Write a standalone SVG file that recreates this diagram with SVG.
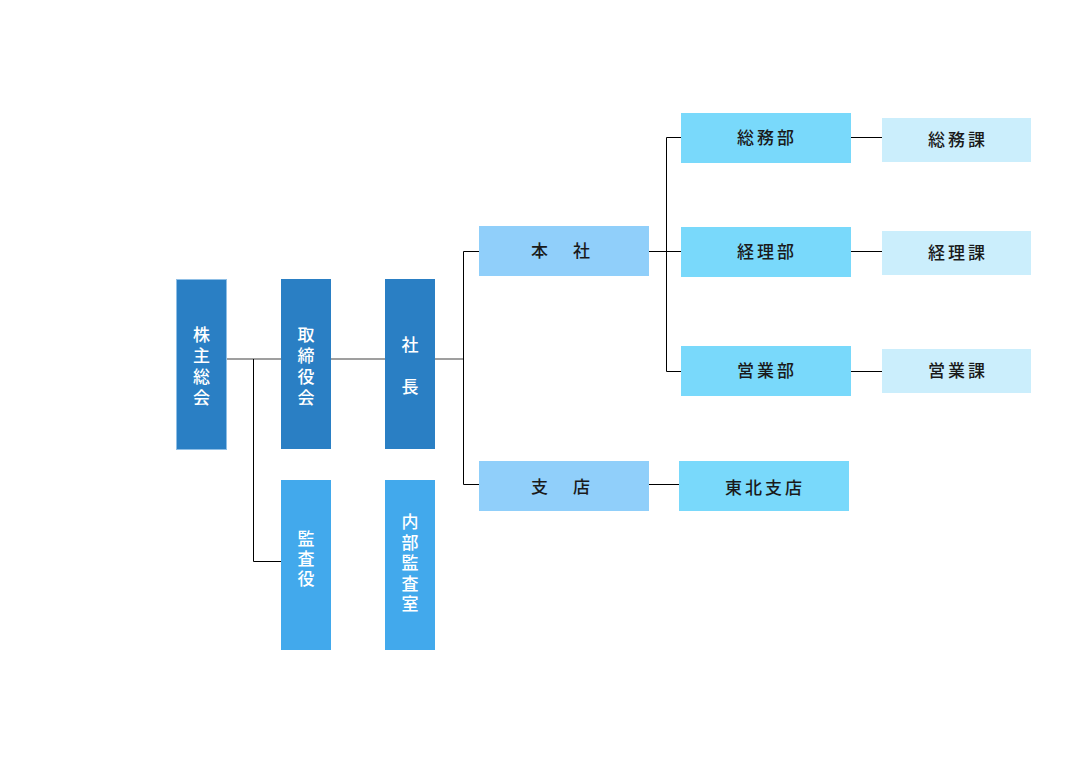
<svg xmlns="http://www.w3.org/2000/svg" width="1080" height="763" viewBox="0 0 1080 763">
<style>
text{font-family:"Noto Sans CJK JP","Noto Sans",sans-serif;font-size:17px;text-anchor:middle;font-weight:500}
.v{fill:#ffffff;writing-mode:vertical-rl;letter-spacing:4px}
.k{fill:#1a1a1a;letter-spacing:3px}
.s{letter-spacing:4px}
.d{fill:#2a7fc4}
.m{fill:#42a9ec}
.h{fill:#90cffa}
.b{fill:#79d9fb}
.l{fill:#cbeefc}
.g{stroke:#808080;stroke-width:1.5;fill:none}
.c{stroke:#000;stroke-width:1;fill:none}
</style>
<rect width="1080" height="763" fill="#fff"/>
<g id="connectors">
<path class="g" d="M226 359H281M331 359H385M435 359H463"/>
<path class="c" d="M253.5 359V561.5H281"/>
<path class="c" d="M479 251.5H463.5V484.5H479"/>
<path class="c" d="M649 251.5H681M681 137.5H666.5V371.5H681"/>
<path class="c" d="M851 137.5H882M851 251.5H882M851 371.5H882"/>
<path class="c" d="M649 484.5H679"/>
</g>
<g id="kabunushi"><rect class="d" x="176.5" y="279.5" width="50" height="170" stroke="#8fbfe6" stroke-width="1"/><text class="v" x="201.5" y="368.5">株主総会</text></g>
<g id="torishimariyaku"><rect class="d" x="281" y="279" width="50" height="170"/><text class="v" x="306" y="368.5">取締役会</text></g>
<g id="shacho"><rect class="d" x="385" y="279" width="50" height="170"/><text class="v" x="410" y="367.5">社　長</text></g>
<g id="kansayaku"><rect class="m" x="281" y="480" width="50" height="170"/><text class="v" x="306" y="560.5" style="letter-spacing:3px">監査役</text></g>
<g id="naibukansa"><rect class="m" x="385" y="480" width="50" height="170"/><text class="v" x="410" y="564.5" style="letter-spacing:3.5px">内部監査室</text></g>
<g id="honsha"><rect class="h" x="479" y="226" width="170" height="50"/><text class="k s" x="562.5" y="257">本　社</text></g>
<g id="shiten"><rect class="h" x="479" y="461" width="170" height="50"/><text class="k s" x="562.5" y="493">支　店</text></g>
<g id="somubu"><rect class="b" x="681" y="113" width="170" height="50"/><text class="k" x="767" y="144">総務部</text></g>
<g id="keiribu"><rect class="b" x="681" y="227" width="170" height="50"/><text class="k" x="767" y="258">経理部</text></g>
<g id="eigyobu"><rect class="b" x="681" y="346" width="170" height="50"/><text class="k" x="767" y="377">営業部</text></g>
<g id="somuka"><rect class="l" x="882" y="118" width="149" height="44"/><text class="k" x="958" y="146">総務課</text></g>
<g id="keirika"><rect class="l" x="882" y="231" width="149" height="44"/><text class="k" x="958" y="259">経理課</text></g>
<g id="eigyoka"><rect class="l" x="882" y="349" width="149" height="44"/><text class="k" x="958" y="377">営業課</text></g>
<g id="tohoku"><rect class="b" x="679" y="461" width="170" height="50"/><text class="k" x="765" y="494">東北支店</text></g>
</svg>
